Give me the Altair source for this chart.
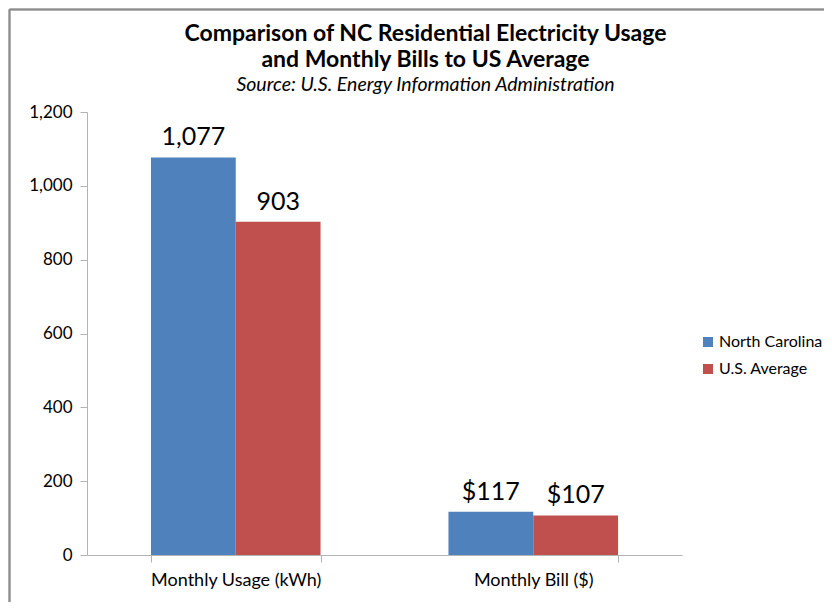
import altair as alt
import pandas as pd

categories = ["Monthly Usage (kWh)", "Monthly Bill ($)"]
series = ["North Carolina", "U.S. Average"]
nc_values = [1077, 117]
us_values = [903, 107]
nc_labels = ["1,077", "$117"]
us_labels = ["903", "$107"]
colors = ["#4F81BD", "#C0504D"]
y_ticks = [0, 200, 400, 600, 800, 1000, 1200]

rows = []
for i, c in enumerate(categories):
    rows.append({"category": c, "series": series[0], "value": nc_values[i], "label": nc_labels[i]})
    rows.append({"category": c, "series": series[1], "value": us_values[i], "label": us_labels[i]})
df = pd.DataFrame(rows)

FONT = "Lato"

x_enc = alt.X(
    "category:N",
    sort=categories,
    title=None,
    scale=alt.Scale(paddingInner=0.43, paddingOuter=0.215),
    axis=alt.Axis(
        labelAngle=0,
        tickBand="extent",
        labelFontSize=18,
        labelColor="#000000",
        labelPadding=9,
        domainColor="#b3b3b3",
        tickColor="#b3b3b3",
        tickSize=7,
        labelFont=FONT,
    ),
)
xoff = alt.XOffset("series:N", sort=series, scale=alt.Scale(paddingInner=0, paddingOuter=0))
y_enc = alt.Y(
    "value:Q",
    title=None,
    scale=alt.Scale(domain=[0, 1200], nice=False),
    axis=alt.Axis(
        values=y_ticks,
        format=",d",
        grid=False,
        labelFontSize=17,
        labelColor="#000000",
        labelPadding=8,
        domainColor="#b3b3b3",
        tickColor="#b3b3b3",
        tickSize=7,
        labelFont=FONT,
    ),
)

bars = alt.Chart(df).mark_bar().encode(
    x=x_enc,
    xOffset=xoff,
    y=y_enc,
    color=alt.Color(
        "series:N",
        sort=series,
        scale=alt.Scale(domain=series, range=colors),
        legend=alt.Legend(
            title=None,
            orient="none",
            legendX=613,
            legendY=222,
            symbolType="square",
            symbolSize=100,
            symbolStrokeWidth=0,
            labelFontSize=16,
            labelFont=FONT,
            labelColor="#000000",
            labelLimit=200,
            rowPadding=11,
            labelOffset=3,
        ),
    ),
)

text = alt.Chart(df).mark_text(
    dy=-12, fontSize=25, font=FONT, color="#000000", baseline="alphabetic"
).encode(
    x=alt.X("category:N", sort=categories),
    xOffset=alt.XOffset("series:N", sort=series),
    y=alt.Y("value:Q"),
    text="label:N",
)

frame_top = alt.Chart(df).mark_rule(color="#8c8c8c", strokeWidth=1.5).encode(
    x=alt.value(-77.5), x2=alt.value(737), y=alt.value(-102.5)
)
frame_left = alt.Chart(df).mark_rule(color="#8c8c8c", strokeWidth=1.5).encode(
    x=alt.value(-77.5), y=alt.value(-102.5), y2=alt.value(490)
)

chart = alt.layer(bars, text, frame_top, frame_left).properties(
    width=595,
    height=443,
    autosize=alt.AutoSizeParams(type="none"),
    padding={"left": 79, "top": 104, "right": 142, "bottom": 47},
    title=alt.TitleParams(
        text=["Comparison of NC Residential Electricity Usage", "and Monthly Bills to US Average"],
        subtitle="Source: U.S. Energy Information Administration",
        font=FONT,
        fontSize=23,
        fontWeight="bold",
        color="#000000",
        lineHeight=26,
        subtitleFont=FONT,
        subtitleFontSize=19.5,
        subtitleFontStyle="italic",
        subtitleColor="#000000",
        subtitlePadding=4,
        anchor="middle",
        frame="group",
        dx=41,
        offset=-86,
    ),
).configure_view(stroke=None)

chart.save("out.html", embed_options={"renderer": "svg", "actions": False})
